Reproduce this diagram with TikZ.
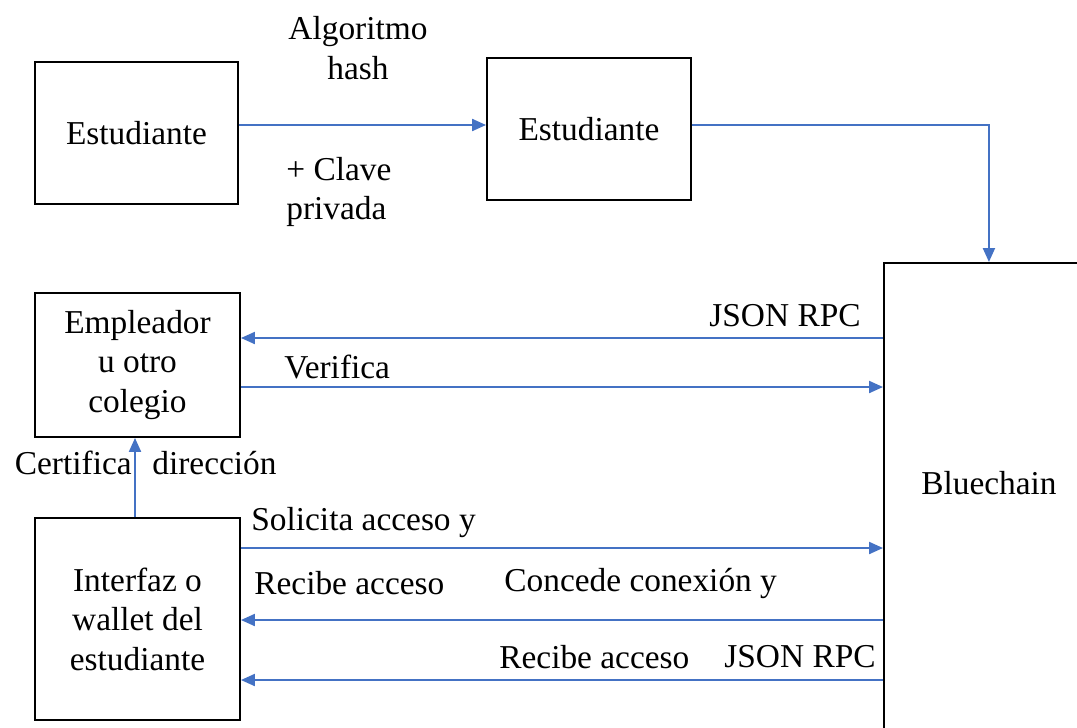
\documentclass[tikz,border=0pt]{standalone}
\usepackage{fontspec}
\setmainfont{Liberation Serif}
\usetikzlibrary{arrows.meta}
\definecolor{flowblue}{HTML}{4472C4}
\begin{document}
\begin{tikzpicture}[x=0.02cm, y=-0.02cm, font=\fontsize{19}{22.5}\selectfont]
\tikzstyle{box}=[draw, line width=1.1pt, inner sep=0pt, align=center]
\tikzstyle{lbl}=[inner sep=0pt, align=center]
\tikzstyle{flow}=[draw=flowblue, line width=1.2pt, -{Triangle[length=0.28cm, width=0.24cm, fill=flowblue]}]
    \clip (0,0) rectangle (1077,727);
    % blocks
    \node [box, minimum width=4.06cm, minimum height=2.84cm] (est1) at (136.5,133) {Estudiante};
    \node [box, minimum width=4.08cm, minimum height=2.84cm] (est2) at (589,129) {Estudiante};
    \node [box, minimum width=4.1cm, minimum height=2.88cm] (emp) at (137.5,365) {Empleador\\u otro\\colegio};
    \node [box, minimum width=4.1cm, minimum height=4.04cm] (wal) at (137.5,619) {Interfaz o\\wallet del\\estudiante};
    \node [box, minimum width=4.2cm, minimum height=9.7cm, anchor=north west] (bc) at (883,262) {};
    \node [lbl] (bcname) at (bc.center |- 0,483) {Bluechain};
    % labels
    \node [lbl] (alg) at (358,48) {Algoritmo\\hash};
    \node [lbl, align=left, anchor=west] (clave) at (286,192) {+ Clave\\privada};
    \node [lbl, anchor=east] (json1) at (861,316) {JSON RPC};
    \node [lbl, anchor=west] (verif) at (284,367) {Verifica};
    \node [lbl, anchor=east] (cert) at (132,463) {Certifica};
    \node [lbl, anchor=west] (dir) at (152,463) {dirección};
    \node [lbl, anchor=west] (solic) at (251,523) {Solicita acceso y};
    \node [lbl, anchor=west] (recib1) at (254,583) {Recibe acceso};
    \node [lbl, anchor=west] (conced) at (504,583) {Concede conexión y};
    \node [lbl, anchor=west] (recib2) at (499,657) {Recibe acceso};
    \node [lbl, anchor=east] (json2) at (876,657) {JSON RPC};
    % connectors
    \draw [flow] (est1.east |- 0,125) -- (est2.west |- 0,125);
    \draw [flow] (est2.east |- 0,125) -| (bc.north);
    \draw [flow] (bc.west |- 0,338) -- (emp.east |- 0,338);
    \draw [flow] (emp.east |- 0,387) -- (bc.west |- 0,387);
    \draw [flow] (wal.north -| 135,0) -- (emp.south -| 135,0);
    \draw [flow] (wal.east |- 0,548) -- (bc.west |- 0,548);
    \draw [flow] (bc.west |- 0,620) -- (wal.east |- 0,620);
    \draw [flow] (bc.west |- 0,680) -- (wal.east |- 0,680);
\end{tikzpicture}
\end{document}
